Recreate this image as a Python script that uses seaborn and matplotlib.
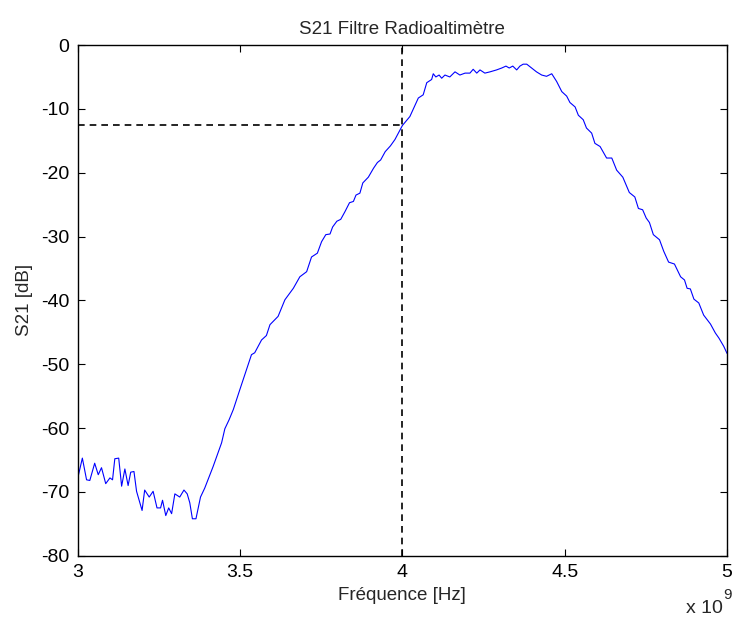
import numpy as np
import pandas as pd
import seaborn as sns
import matplotlib.pyplot as plt
from matplotlib.ticker import FuncFormatter

# frequency in GHz, S21 in dB
freq_ghz = [3.000, 3.014, 3.027, 3.037, 3.052, 3.063, 3.073, 3.086, 3.099, 3.107,
            3.114, 3.126, 3.135, 3.145, 3.155, 3.163, 3.173, 3.181, 3.198, 3.206,
            3.220, 3.232, 3.244, 3.255, 3.261, 3.271, 3.280, 3.289, 3.299, 3.314,
            3.327, 3.337, 3.345, 3.353, 3.364, 3.378, 3.391, 3.417, 3.443, 3.453,
            3.466, 3.479, 3.499, 3.535, 3.545, 3.566, 3.581, 3.592, 3.617, 3.638,
            3.664, 3.684, 3.705, 3.720, 3.738, 3.751, 3.764, 3.777, 3.785, 3.798,
            3.810, 3.823, 3.837, 3.849, 3.857, 3.869, 3.878, 3.895, 3.911, 3.923,
            3.933, 3.947, 3.963, 3.977, 4.000, 4.023, 4.049, 4.064, 4.075, 4.090,
            4.095, 4.103, 4.113, 4.121, 4.131, 4.146, 4.162, 4.177, 4.193, 4.208,
            4.218, 4.229, 4.239, 4.254, 4.270, 4.290, 4.306, 4.319, 4.329, 4.340,
            4.352, 4.362, 4.372, 4.383, 4.398, 4.413, 4.429, 4.444, 4.460, 4.475,
            4.491, 4.506, 4.516, 4.532, 4.542, 4.557, 4.567, 4.583, 4.593, 4.609,
            4.629, 4.645, 4.660, 4.679, 4.699, 4.716, 4.727, 4.740, 4.751, 4.761,
            4.773, 4.792, 4.805, 4.820, 4.838, 4.857, 4.869, 4.877, 4.887, 4.898,
            4.913, 4.928, 4.949, 4.964, 4.975, 4.990, 5.000]
s21_db = [-67.8, -64.7, -68.1, -68.2, -65.5, -67.3, -66.2, -68.7, -67.8, -68.1,
          -64.8, -64.7, -69.1, -66.4, -69.0, -66.9, -66.8, -69.9, -72.9, -69.7,
          -70.8, -69.9, -72.5, -72.5, -71.3, -73.7, -72.5, -73.4, -70.3, -70.8,
          -69.7, -70.3, -71.7, -74.2, -74.2, -70.8, -69.4, -66.0, -62.3, -60.1,
          -58.7, -57.1, -54.0, -48.5, -48.2, -46.2, -45.5, -43.8, -42.5, -39.9,
          -38.1, -36.3, -35.5, -33.2, -32.6, -30.8, -29.7, -29.6, -28.5, -27.6,
          -27.3, -26.1, -24.7, -24.5, -23.5, -23.2, -21.6, -20.7, -19.3, -18.4,
          -18.0, -16.7, -15.8, -14.8, -12.6, -11.2, -8.3, -7.8, -5.9, -5.4,
          -4.5, -5.0, -4.7, -5.2, -4.7, -5.0, -4.2, -4.7, -4.4, -4.4,
          -3.8, -4.4, -3.9, -4.4, -4.2, -3.9, -3.6, -3.3, -3.6, -3.3,
          -3.9, -3.3, -3.0, -3.0, -3.6, -4.2, -4.7, -4.9, -4.5, -5.7,
          -7.3, -8.0, -9.0, -9.7, -11.0, -11.7, -13.0, -13.8, -15.4, -15.9,
          -17.7, -17.7, -19.6, -20.7, -23.1, -23.8, -25.6, -25.8, -27.1, -27.8,
          -29.7, -30.5, -32.3, -34.0, -34.3, -36.3, -36.8, -38.1, -38.2, -39.8,
          -40.4, -42.3, -43.7, -45.1, -45.9, -47.2, -48.3]

marker_freq_ghz = 4.0
marker_level_db = -12.5

x_ticks_ghz = [3, 3.5, 4, 4.5, 5]
y_ticks = [0, -10, -20, -30, -40, -50, -60, -70, -80]

df = pd.DataFrame({'freq': np.array(freq_ghz) * 1e9, 's21': s21_db})

sns.set_style('ticks')
plt.rcParams['font.family'] = ['Liberation Sans', 'DejaVu Sans']
plt.rcParams['axes.unicode_minus'] = False

fig = plt.figure(figsize=(7.34, 6.21), dpi=100)
ax = fig.add_axes([0.106, 0.105, 0.8845, 0.8225])

sns.lineplot(x='freq', y='s21', data=df, ax=ax, color='#0000ff', linewidth=0.8)

# dashed marker lines at 4 GHz / -12.5 dB
ax.axvline(marker_freq_ghz * 1e9, color='black', linestyle=(0, (4, 3)), linewidth=1.2)
ax.plot([x_ticks_ghz[0] * 1e9, marker_freq_ghz * 1e9], [marker_level_db, marker_level_db],
        color='black', linestyle=(0, (4, 3)), linewidth=1.2)

ax.set_xlim(3e9, 5e9)
ax.set_ylim(-80, 0)
ax.set_xticks([v * 1e9 for v in x_ticks_ghz])
ax.set_yticks(y_ticks)
ax.xaxis.set_major_formatter(FuncFormatter(lambda v, p: f'{v / 1e9:g}'))

for s in ax.spines.values():
    s.set_visible(True)
    s.set_linewidth(1.0)
    s.set_color('black')
ax.tick_params(direction='in', length=5, width=0.8, top=True, right=True,
               labelsize=14, colors='black', pad=6)

ax.set_title('S21 Filtre Radioaltimètre', fontsize=13.5, pad=8)
ax.set_xlabel('Fréquence [Hz]', fontsize=13.5, labelpad=4)
ax.set_ylabel('S21 [dB]', fontsize=13.5, labelpad=6)

fig.text(0.935, 0.006, 'x 10', fontsize=14, ha='left', va='bottom')
fig.text(0.985, 0.03, '9', fontsize=11, ha='left', va='bottom')

fig.savefig('out.png', dpi=100, facecolor='white')
